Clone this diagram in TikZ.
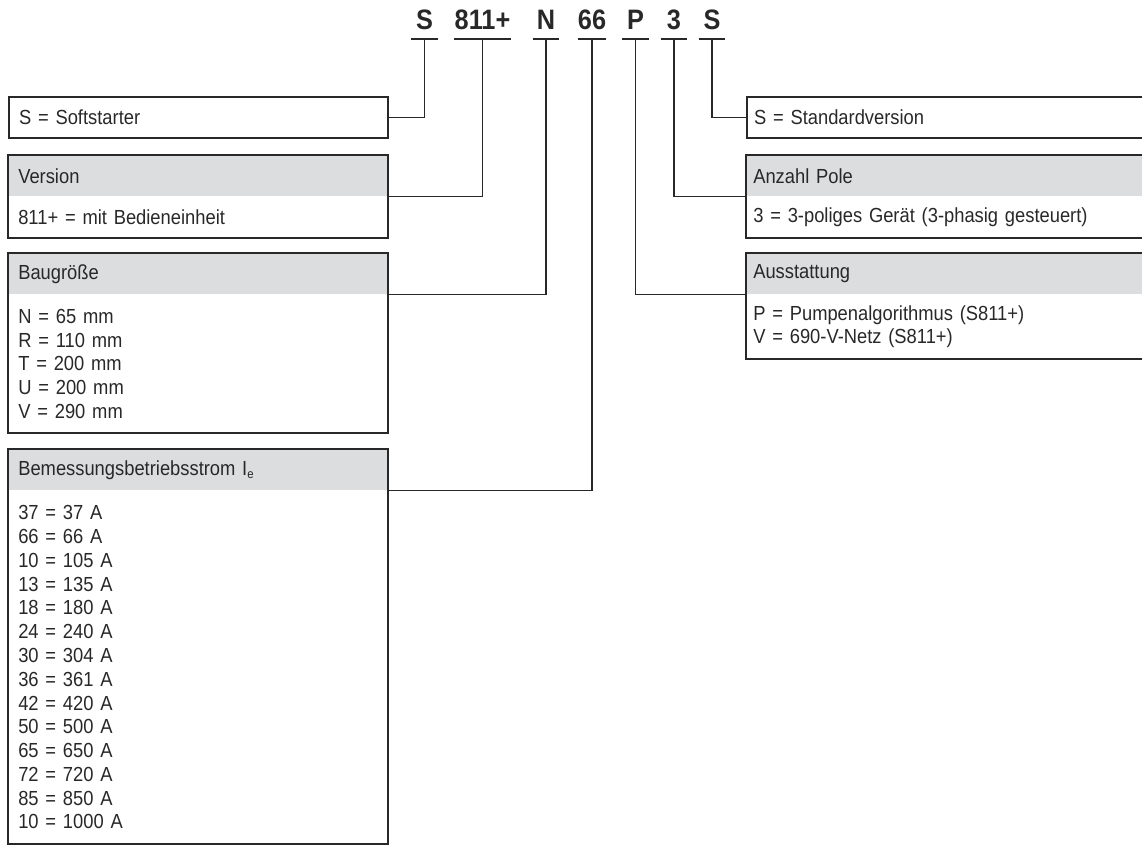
\documentclass[tikz,border=0pt]{standalone}
\usepackage{fontspec}
\setmainfont{Liberation Sans}[FakeStretch=0.9]
\usepackage{xcolor}
\usepackage{tikz}
\usetikzlibrary{positioning}
\definecolor{headgray}{RGB}{220,221,223}
\definecolor{inkgray}{RGB}{40,40,40}
\newcommand{\tightspace}{\spaceskip=0.19em plus 0.05em\relax}

\begin{document}
\begin{tikzpicture}[x=0.25mm, y=-0.25mm, every node/.style={align=left, text=inkgray, font=\fontsize{14.5}{16.9}\selectfont\tightspace},
    code/.style={font=\fontsize{20}{24}\selectfont\bfseries, anchor=south, minimum width=6.5mm, inner xsep=0pt, inner ysep=2.25mm, text depth=0pt},
    leftcol/.style={text width=89.75mm, inner xsep=2.5mm},
    rightcol/.style={text width=95.5mm, inner xsep=1.75mm},
    head/.style={anchor=north west, fill=headgray, minimum height=10.25mm, inner ysep=0pt},
    body/.style={inner ysep=0pt},
    frame/.style={draw=inkgray, line width=0.5mm},
    conn/.style={draw=inkgray, line width=0.375mm}]
    \useasboundingbox (0,0) rectangle (1142,846);

    \node (cS1) [code] at (424.5,39) {S};
    \node (cVer) [code] at (482.5,39) {811+};
    \node (cSize) [code] at (546,39) {N};
    \node (cCur) [code] at (592,39) {66};
    \node (cOpt) [code] at (635.5,39) {P};
    \node (cPole) [code] at (674,39) {3};
    \node (cS2) [code] at (712,39) {S};
    \foreach \c in {cS1,cVer,cSize,cCur,cOpt,cPole,cS2}
        \draw[conn] (\c.south west) -- (\c.south east);

    \node (soft) [leftcol, frame, anchor=north west, minimum height=10.25mm, inner ysep=0pt] at (8,96) {S = Softstarter};
    \node (verH) [leftcol, head] at (8,155) {Version};
    \node (verB) [leftcol, body, minimum height=10.25mm, below=0pt of verH] {811+ = mit Bedieneinheit};
    \node (sizeH) [leftcol, head] at (8,253) {Baugröße};
    \node (sizeB) [leftcol, body, minimum height=34.5mm, below=0pt of sizeH] {N = 65 mm\\R = 110 mm\\T = 200 mm\\U = 200 mm\\V = 290 mm};
    \node (curH) [leftcol, head] at (8,449) {Bemessungsbetriebsstrom I\raisebox{-0.35ex}{\fontsize{9}{10}\selectfont e}};
    \node (curB) [leftcol, body, minimum height=88.25mm, below=0pt of curH] {37 = 37 A\\66 = 66 A\\10 = 105 A\\13 = 135 A\\18 = 180 A\\24 = 240 A\\30 = 304 A\\36 = 361 A\\42 = 420 A\\50 = 500 A\\65 = 650 A\\72 = 720 A\\85 = 850 A\\10 = 1000 A};

    \node (std) [rightcol, frame, anchor=north west, minimum height=10.25mm, inner ysep=0pt] at (746,96) {S = Standardversion};
    \node (poleH) [rightcol, head] at (746,155) {Anzahl Pole};
    \node (poleB) [rightcol, body, minimum height=10.25mm, below=0pt of poleH] {3 = 3-poliges Gerät (3-phasig gesteuert)};
    \node (optH) [rightcol, head] at (746,253) {Ausstattung};
    \node (optB) [rightcol, body, minimum height=16mm, below=0pt of optH] {P = Pumpenalgorithmus (S811+)\\V = 690-V-Netz (S811+)};

    \draw[frame] (verH.north west) rectangle (verB.south east);
    \draw[frame] (sizeH.north west) rectangle (sizeB.south east);
    \draw[frame] (curH.north west) rectangle (curB.south east);
    \draw[frame] (poleH.north west) rectangle (poleB.south east);
    \draw[frame] (optH.north west) rectangle (optB.south east);

    \draw[conn] (cS1.south) |- (soft.east);
    \draw[conn] (cVer.south) |- (verH.south east);
    \draw[conn] (cSize.south) |- (sizeH.south east);
    \draw[conn] (cCur.south) |- (curH.south east);
    \draw[conn] (cOpt.south) |- (optH.south west);
    \draw[conn] (cPole.south) |- (poleH.south west);
    \draw[conn] (cS2.south) |- (std.west);
\end{tikzpicture}
\end{document}
